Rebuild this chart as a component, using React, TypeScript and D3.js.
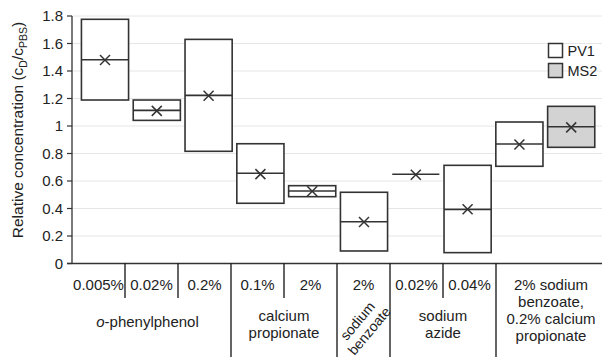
import React from 'react';
import * as d3 from 'd3';

const slotIds = ['opp1', 'opp2', 'opp3', 'cp1', 'cp2', 'sb1', 'sa1', 'sa2', 'mixPV1', 'mixMS2'];
const seriesOf = ['PV1', 'PV1', 'PV1', 'PV1', 'PV1', 'PV1', 'PV1', 'PV1', 'PV1', 'MS2'];
const maxVals = [1.776, 1.189, 1.63, 0.871, 0.566, 0.518, 0.649, 0.714, 1.029, 1.143];
const minVals = [1.189, 1.041, 0.816, 0.438, 0.486, 0.091, 0.649, 0.079, 0.707, 0.845];
const medianVals = [1.482, 1.114, 1.223, 0.656, 0.527, 0.304, 0.649, 0.394, 0.869, 0.995];
const meanVals = [1.48, 1.11, 1.22, 0.65, 0.525, 0.302, 0.646, 0.394, 0.865, 0.99];

const yTicks = [0, 0.2, 0.4, 0.6, 0.8, 1, 1.2, 1.4, 1.6, 1.8];

const concLabels = ['0.005%', '0.02%', '0.2%', '0.1%', '2%', '2%', '0.02%', '0.04%'];
const groupNames = ['o-phenylphenol', 'calcium propionate', 'sodium benzoate', 'sodium azide', 'mix'];
const groupStart = [0, 3, 5, 6, 8];
const groupEnd = [3, 5, 6, 8, 10];
const mixLines = ['2% sodium', 'benzoate,', '0.2% calcium', 'propionate'];
const legendItems = ['PV1', 'MS2'];

const W = 602;
const H = 357;
const plotLeft = 72;
const plotRight = 602;
const yTop = 16;
const yBottom = 263.5;
const font = 'Liberation Sans, Arial, sans-serif';
const textColor = '#222';
const strokeColor = '#333';
const fills: Record<string, string> = { PV1: '#ffffff', MS2: '#d3d3d3' };

export default function App() {
  const y = d3.scaleLinear().domain([0, 1.8]).range([yBottom, yTop]);
  const x = d3
    .scaleBand<string>()
    .domain(slotIds)
    .range([79.1, 597.1])
    .paddingInner(0.09)
    .paddingOuter(0.045);
  const tx = d3.scaleBand<number>().domain(d3.range(10)).range([plotLeft, plotRight]);
  const tcenter = (a: number, b: number) => ((tx(a) as number) + (tx(b - 1) as number) + tx.bandwidth()) / 2;

  const fs = 15;

  const dividers: { x: number; long: boolean }[] = [];
  for (let g = 0; g < groupStart.length; g++) {
    const s = groupStart[g];
    const e = groupEnd[g];
    if (g < groupStart.length - 1) {
      for (let i = s + 1; i < e; i++) dividers.push({ x: tx(i) as number, long: false });
      dividers.push({ x: tx(e) as number, long: true });
    }
  }

  const sbCenter = tcenter(5, 6);

  return (
    <svg width={W} height={H} style={{ position: 'absolute', left: 0, top: 0, background: '#fff' }}>
      <rect x={0} y={0} width={W} height={H} fill="#fff" />
      {yTicks.slice(1).map((t) => (
        <line key={'g' + t} x1={plotLeft} x2={plotRight} y1={y(t)} y2={y(t)} stroke="#e6e6e6" strokeWidth={1} />
      ))}
      <line x1={plotLeft} x2={plotLeft} y1={yTop} y2={yBottom} stroke={strokeColor} strokeWidth={1.3} />
      {yTicks.map((t) => (
        <g key={'t' + t}>
          <line x1={plotLeft - 5} x2={plotLeft} y1={y(t)} y2={y(t)} stroke={strokeColor} strokeWidth={1.2} />
          <text x={plotLeft - 9} y={y(t)} dy="0.36em" textAnchor="end" fontFamily={font} fontSize={fs} fill={textColor}>
            {d3.format('~g')(t)}
          </text>
        </g>
      ))}
      <text
        transform={`translate(23,${130}) rotate(-90)`}
        textAnchor="middle"
        fontFamily={font}
        fontSize={15.5}
        fill={textColor}
      >
        Relative concentration (c
        <tspan fontSize={10.5} dy={4}>D</tspan>
        <tspan dy={-4}>/c</tspan>
        <tspan fontSize={10.5} dy={4}>PBS</tspan>
        <tspan dy={-4}>)</tspan>
      </text>

      {slotIds.map((id, i) => {
        const x0 = x(id) as number;
        const bw = x.bandwidth();
        const cx = x0 + bw / 2;
        const top = y(maxVals[i]);
        const bot = y(minVals[i]);
        const my = y(meanVals[i]);
        return (
          <g key={id}>
            {bot - top > 0.5 && (
              <rect x={x0} y={top} width={bw} height={bot - top} fill={fills[seriesOf[i]]} stroke={strokeColor} strokeWidth={1.6} />
            )}
            <line x1={x0} x2={x0 + bw} y1={y(medianVals[i])} y2={y(medianVals[i])} stroke={strokeColor} strokeWidth={1.6} />
            <line x1={cx - 5} x2={cx + 5} y1={my - 5} y2={my + 5} stroke={strokeColor} strokeWidth={1.5} />
            <line x1={cx - 5} x2={cx + 5} y1={my + 5} y2={my - 5} stroke={strokeColor} strokeWidth={1.5} />
          </g>
        );
      })}

      <line x1={plotLeft - 5} x2={plotRight} y1={yBottom} y2={yBottom} stroke={strokeColor} strokeWidth={1.3} />
      {dividers.map((d, i) => (
        <line key={'d' + i} x1={d.x} x2={d.x} y1={yBottom} y2={d.long ? H : 298} stroke="#111" strokeWidth={1.3} />
      ))}
      {concLabels.map((c, i) => (
        <text key={'c' + i} x={tcenter(i, i + 1)} y={290} textAnchor="middle" fontFamily={font} fontSize={fs} fill={textColor}>
          {c}
        </text>
      ))}
      <text x={tcenter(0, 3) - 4} y={327} textAnchor="middle" fontFamily={font} fontSize={fs} fill={textColor}>
        <tspan fontStyle="italic">o</tspan>-phenylphenol
      </text>
      {[1, 3].map((g) => {
        const parts = groupNames[g].split(' ');
        return (
          <text key={g} textAnchor="middle" fontFamily={font} fontSize={fs} fill={textColor}>
            {parts.map((p, j) => (
              <tspan key={p} x={tcenter(groupStart[g], groupEnd[g])} y={321 + j * 17}>
                {p}
              </tspan>
            ))}
          </text>
        );
      })}
      <text
        transform={`translate(${sbCenter},${326}) rotate(-50)`}
        textAnchor="middle"
        fontFamily={font}
        fontSize={14}
        fill={textColor}
      >
        {groupNames[2].split(' ').map((p, j) => (
          <tspan key={p} x={0} y={-3 + j * 15.5}>
            {p}
          </tspan>
        ))}
      </text>
      <text textAnchor="middle" fontFamily={font} fontSize={fs} fill={textColor}>
        {mixLines.map((l, j) => (
          <tspan key={l} x={tcenter(8, 10) + 2} y={290 + j * 17}>
            {l}
          </tspan>
        ))}
      </text>

      {legendItems.map((s, i) => (
        <g key={s} transform={`translate(548.5,${43.5 + i * 20})`}>
          <rect x={0} y={0} width={14} height={14} fill={fills[s]} stroke={strokeColor} strokeWidth={1.5} />
          <text x={19} y={7} dy="0.36em" fontFamily={font} fontSize={14.5} fill={textColor}>
            {s}
          </text>
        </g>
      ))}
    </svg>
  );
}
